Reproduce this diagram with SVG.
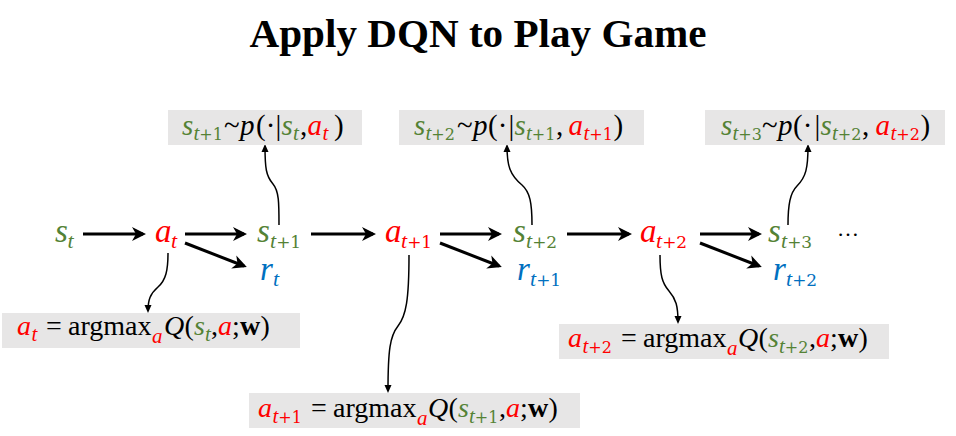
<svg xmlns="http://www.w3.org/2000/svg" width="956" height="436" viewBox="0 0 956 436">
<style>
text{font-family:"Liberation Serif","Times New Roman",serif}
.i{font-style:italic}
.g{fill:#548235}.r{fill:#FF0000}.b{fill:#0070C0}.k{fill:#000}
.M{font-size:33px}.S{font-size:22px}.D{font-family:"DejaVu Serif",serif;font-style:normal;font-size:17px}
.T{font-size:29px}.ts{font-size:21px}.Dt{font-family:"DejaVu Serif",serif;font-style:normal;font-size:16px}
.B{font-size:28px}.bs{font-size:21px}
.box{fill:#E7E6E6}
.big{stroke:#000;stroke-width:3;fill:none}
.thin{stroke:#000;stroke-width:1.5;fill:none}
.w{font-weight:bold;font-style:normal}
</style>
<defs>
<marker id="ah" markerUnits="userSpaceOnUse" viewBox="-12 -8 16 16" refX="0" refY="0" markerWidth="16" markerHeight="16" orient="auto">
<path d="M-11,-7 L3,0 L-11,7 L-7,0 Z" fill="#000"/>
</marker>
<marker id="sh" markerUnits="userSpaceOnUse" viewBox="-7 -5 10 10" refX="0" refY="0" markerWidth="10" markerHeight="10" orient="auto">
<path d="M-6,-3.5 L2,0 L-6,3.5 Z" fill="#000"/>
</marker>
</defs>
<rect width="956" height="436" fill="#fff"/>
<g id="title">
<text x="478" y="47" text-anchor="middle" font-weight="bold" font-size="41" textLength="457" lengthAdjust="spacingAndGlyphs">Apply DQN to Play Game</text>
</g>

<g id="connectors">
<path class="big" d="M83,234 L143,234" marker-end="url(#ah)"/>
<path class="big" d="M185,234 L244,234" marker-end="url(#ah)"/>
<path class="big" d="M185,243 L244,266" marker-end="url(#ah)"/>
<path class="big" d="M311,234 L373,234" marker-end="url(#ah)"/>
<path class="big" d="M440,234 L499,234" marker-end="url(#ah)"/>
<path class="big" d="M440,243 L499,266" marker-end="url(#ah)"/>
<path class="big" d="M567,234 L629,234" marker-end="url(#ah)"/>
<path class="big" d="M700,234 L759,234" marker-end="url(#ah)"/>
<path class="big" d="M700,243 L759,266" marker-end="url(#ah)"/>
<path class="thin" d="M279,225 C279,203 279,191 273,184 C266,176 265,168 265,146" marker-end="url(#sh)"/>
<path class="thin" d="M532,225 C532,203 530,192 522,185 C510,175 507,166 507,146" marker-end="url(#sh)"/>
<path class="thin" d="M788,225 C788,205 790,193 797,186 C806,177 808,168 808,146" marker-end="url(#sh)"/>
<path class="thin" d="M168,253 C168,270 166,280 158,287 C150,294 148,300 148,311" marker-end="url(#sh)"/>
<path class="thin" d="M409,255 C409,300 406,316 398,326 C390,336 388,350 388,391" marker-end="url(#sh)"/>
<path class="thin" d="M660,255 C660,275 662,283 669,291 C676,299 678,306 678,322" marker-end="url(#sh)"/>
</g>

<g id="node-s_t">
<text class="i g M"><tspan x="55" y="242">s</tspan><tspan class="S" x="67.5" y="248">t</tspan></text>
</g>
<g id="node-a_t">
<text class="i r M"><tspan x="155" y="242">a</tspan><tspan class="S" x="171" y="248">t</tspan></text>
</g>
<g id="node-s_t1">
<text class="i g M"><tspan x="257" y="242">s</tspan><tspan class="S" x="270" y="248">t</tspan><tspan class="D">+1</tspan></text>
</g>
<g id="node-r_t">
<text class="i b M"><tspan x="260" y="280">r</tspan><tspan class="S" x="273" y="286">t</tspan></text>
</g>
<g id="node-a_t1">
<text class="i r M"><tspan x="385" y="242">a</tspan><tspan class="S" x="401" y="248">t</tspan><tspan class="D">+1</tspan></text>
</g>
<g id="node-s_t2">
<text class="i g M"><tspan x="513" y="242">s</tspan><tspan class="S" x="526" y="248">t</tspan><tspan class="D">+2</tspan></text>
</g>
<g id="node-r_t1">
<text class="i b M"><tspan x="517" y="280">r</tspan><tspan class="S" x="530" y="286">t</tspan><tspan class="D">+1</tspan></text>
</g>
<g id="node-a_t2">
<text class="i r M"><tspan x="640" y="242">a</tspan><tspan class="S" x="656" y="248">t</tspan><tspan class="D">+2</tspan></text>
</g>
<g id="node-s_t3">
<text class="i g M"><tspan x="768" y="242">s</tspan><tspan class="S" x="781" y="248">t</tspan><tspan class="D">+3</tspan></text>
</g>
<g id="node-r_t2">
<text class="i b M"><tspan x="773" y="280">r</tspan><tspan class="S" x="786" y="286">t</tspan><tspan class="D">+2</tspan></text>
</g>
<g id="node-dots">
<text x="837" y="236" font-size="22">…</text>
</g>

<g id="box-trans1">
<rect class="box" x="168" y="110" width="194" height="35"/>
<text class="T k"><tspan class="i g" x="182" y="135">s</tspan><tspan class="i g ts" x="193.5" y="140">t</tspan><tspan class="g Dt">+1</tspan><tspan x="224" y="135">~</tspan><tspan class="i" x="240" y="135">p</tspan><tspan x="256" y="135">(·</tspan><tspan x="275.5" y="135">|</tspan><tspan class="i g" x="281.5" y="135">s</tspan><tspan class="i g ts" x="293" y="140">t</tspan><tspan x="300" y="135">,</tspan><tspan class="i r" x="307.5" y="135">a</tspan><tspan class="i r ts" x="322.5" y="140">t</tspan><tspan x="334" y="135">)</tspan></text>
</g>
<g id="box-trans2">
<rect class="box" x="399" y="110" width="245" height="35"/>
<text class="T k"><tspan class="i g" x="414" y="135">s</tspan><tspan class="i g ts" x="425.5" y="140">t</tspan><tspan class="g Dt">+2</tspan><tspan x="457" y="135">~</tspan><tspan class="i" x="473" y="135">p</tspan><tspan x="488" y="135">(·</tspan><tspan x="508.5" y="135">|</tspan><tspan class="i g" x="514.5" y="135">s</tspan><tspan class="i g ts" x="526" y="140">t</tspan><tspan class="g Dt">+1</tspan><tspan x="556" y="135">,</tspan><tspan class="i r" x="568.5" y="135">a</tspan><tspan class="i r ts" x="583.5" y="140">t</tspan><tspan class="r Dt">+1</tspan><tspan x="613.5" y="135">)</tspan></text>
</g>
<g id="box-trans3">
<rect class="box" x="705" y="110" width="240" height="35"/>
<text class="T k"><tspan class="i g" x="721" y="135">s</tspan><tspan class="i g ts" x="732.5" y="140">t</tspan><tspan class="g Dt">+3</tspan><tspan x="762" y="135">~</tspan><tspan class="i" x="778" y="135">p</tspan><tspan x="793" y="135">(·</tspan><tspan x="814.5" y="135">|</tspan><tspan class="i g" x="820.5" y="135">s</tspan><tspan class="i g ts" x="832" y="140">t</tspan><tspan class="g Dt">+2</tspan><tspan x="862" y="135">,</tspan><tspan class="i r" x="875.5" y="135">a</tspan><tspan class="i r ts" x="890.5" y="140">t</tspan><tspan class="r Dt">+2</tspan><tspan x="920.5" y="135">)</tspan></text>
</g>

<g id="box-policy1">
<rect class="box" x="2" y="313" width="298" height="35"/>
<text class="B k"><tspan class="i r" x="17" y="335">a</tspan><tspan class="i r bs" x="31.5" y="341">t</tspan><tspan x="46" y="335">=</tspan><tspan x="68" y="335">argmax</tspan><tspan class="i r bs" x="152" y="343">a</tspan><tspan class="i" x="164" y="335">Q</tspan><tspan x="184.5" y="335">(</tspan><tspan class="i g" x="194" y="335">s</tspan><tspan class="i g bs" x="205" y="341">t</tspan><tspan x="211" y="335">,</tspan><tspan class="i r" x="218" y="335">a</tspan><tspan x="232" y="335">;</tspan><tspan class="w" x="240" y="335">w</tspan><tspan x="260.5" y="335">)</tspan></text>
</g>
<g id="box-policy2">
<rect class="box" x="249" y="393" width="331" height="35"/>
<text class="B k"><tspan class="i r" x="258" y="417">a</tspan><tspan class="i r bs" x="272.5" y="423">t</tspan><tspan class="r Dt">+1</tspan><tspan x="311" y="417">=</tspan><tspan x="333" y="417">argmax</tspan><tspan class="i r bs" x="417" y="425">a</tspan><tspan class="i" x="428" y="417">Q</tspan><tspan x="448.5" y="417">(</tspan><tspan class="i g" x="458" y="417">s</tspan><tspan class="i g bs" x="469" y="423">t</tspan><tspan class="g Dt">+1</tspan><tspan x="499" y="417">,</tspan><tspan class="i r" x="506" y="417">a</tspan><tspan x="520" y="417">;</tspan><tspan class="w" x="528" y="417">w</tspan><tspan x="548.5" y="417">)</tspan></text>
</g>
<g id="box-policy3">
<rect class="box" x="559" y="324" width="330" height="35"/>
<text class="B k"><tspan class="i r" x="568" y="347">a</tspan><tspan class="i r bs" x="582.5" y="353">t</tspan><tspan class="r Dt">+2</tspan><tspan x="621" y="347">=</tspan><tspan x="643" y="347">argmax</tspan><tspan class="i r bs" x="727" y="355">a</tspan><tspan class="i" x="738" y="347">Q</tspan><tspan x="758.5" y="347">(</tspan><tspan class="i g" x="768" y="347">s</tspan><tspan class="i g bs" x="779" y="353">t</tspan><tspan class="g Dt">+2</tspan><tspan x="809" y="347">,</tspan><tspan class="i r" x="816" y="347">a</tspan><tspan x="830" y="347">;</tspan><tspan class="w" x="838" y="347">w</tspan><tspan x="858.5" y="347">)</tspan></text>
</g>
</svg>
